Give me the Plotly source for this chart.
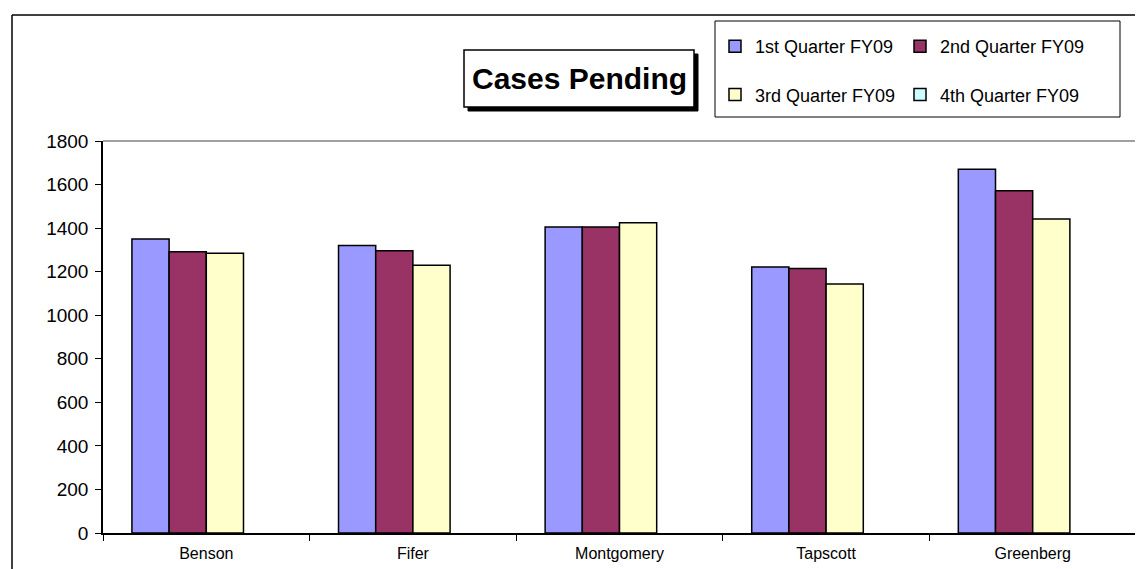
import plotly.graph_objects as go

categories = ["Benson", "Fifer", "Montgomery", "Tapscott", "Greenberg"]
series_names = ["1st Quarter FY09", "2nd Quarter FY09", "3rd Quarter FY09", "4th Quarter FY09"]
q1 = [1350, 1320, 1405, 1222, 1670]
q2 = [1291, 1296, 1405, 1215, 1572]
q3 = [1285, 1230, 1425, 1143, 1442]
q4 = [None, None, None, None, None]
colors = ["#9999FF", "#993366", "#FFFFCC", "#CCFFFF"]
y_ticks = list(range(0, 1801, 200))

W, H = 1143, 569
L, R, T, B = 95, 15, 133, 44
PW, PH = W - L - R, H - T - B


def px(xp):
    return (xp - L) / PW


def py(yp):
    return (H - B - yp) / PH


FONT = "Liberation Sans, Arial, sans-serif"

fig = go.Figure()
values = [q1, q2, q3, q4]
legends = ["legend", "legend2", "legend", "legend2"]
for i, (name, vals) in enumerate(zip(series_names, values)):
    fig.add_trace(go.Bar(
        x=categories, y=vals, name=name,
        marker=dict(color=colors[i], line=dict(color="#000000", width=1.5)),
        legend=legends[i], legendgroup=name, legendrank=i,
    ))

shapes = [
    # outer chart border (left and top)
    dict(type="line", xref="paper", yref="paper", x0=px(4), x1=px(4), y0=py(7), y1=py(H + 5),
         line=dict(color="#000000", width=1.5)),
    dict(type="line", xref="paper", yref="paper", x0=px(4), x1=px(W + 5), y0=py(7), y1=py(7),
         line=dict(color="#000000", width=1.5)),
    # plot area gray border top/right
    dict(type="line", xref="paper", yref="paper", x0=0, x1=1, y0=1, y1=1,
         line=dict(color="#808080", width=1.5)),
    dict(type="line", xref="paper", yref="paper", x0=1, x1=1, y0=0, y1=1,
         line=dict(color="#808080", width=1.5)),
    # title shadow and box
    dict(type="rect", xref="paper", yref="paper", x0=px(460), x1=px(690), y0=py(103), y1=py(46),
         fillcolor="#000000", line=dict(color="#000000", width=1)),
    dict(type="rect", xref="paper", yref="paper", x0=px(456), x1=px(686), y0=py(99), y1=py(42),
         fillcolor="#FFFFFF", line=dict(color="#000000", width=1.5)),
    # legend box
    dict(type="rect", xref="paper", yref="paper", x0=px(707), x1=px(1112), y0=py(109), y1=py(13),
         fillcolor="rgba(0,0,0,0)", line=dict(color="#000000", width=1)),
]

fig.update_layout(
    width=W, height=H,
    margin=dict(l=L, r=R, t=T, b=B, pad=0),
    paper_bgcolor="#FFFFFF", plot_bgcolor="#FFFFFF",
    font=dict(family=FONT, color="#000000"),
    barmode="group", bargap=0.28, bargroupgap=0,
    shapes=shapes,
    annotations=[dict(text="<b>Cases Pending</b>", xref="paper", yref="paper",
                      x=px(571), y=py(70.5), xanchor="center", yanchor="middle",
                      showarrow=False, font=dict(size=30, family=FONT, color="#000000"))],
    legend=dict(x=px(707), y=py(20), xanchor="left", yanchor="top", orientation="v",
                bgcolor="rgba(0,0,0,0)", borderwidth=0, tracegroupgap=22,
                itemwidth=30, font=dict(size=18, family=FONT)),
    legend2=dict(x=px(892), y=py(20), xanchor="left", yanchor="top", orientation="v",
                 bgcolor="rgba(0,0,0,0)", borderwidth=0, tracegroupgap=22,
                 itemwidth=30, font=dict(size=18, family=FONT)),
    showlegend=True,
)

fig.update_xaxes(showline=True, linecolor="#000000", linewidth=1.5, ticks="outside",
                 tickson="boundaries", ticklen=6, tickcolor="#000000", tickwidth=1,
                 ticklabelstandoff=5,
                 tickfont=dict(size=16, family=FONT), showgrid=False, zeroline=False)
fig.update_yaxes(range=[0, 1800], tickvals=y_ticks, showline=True, linecolor="#000000",
                 linewidth=1.5, ticks="outside", ticklen=6, tickcolor="#000000", tickwidth=1,
                 ticklabelstandoff=3,
                 tickfont=dict(size=19, family=FONT), showgrid=False, zeroline=False)

fig.write_html("out.html")
